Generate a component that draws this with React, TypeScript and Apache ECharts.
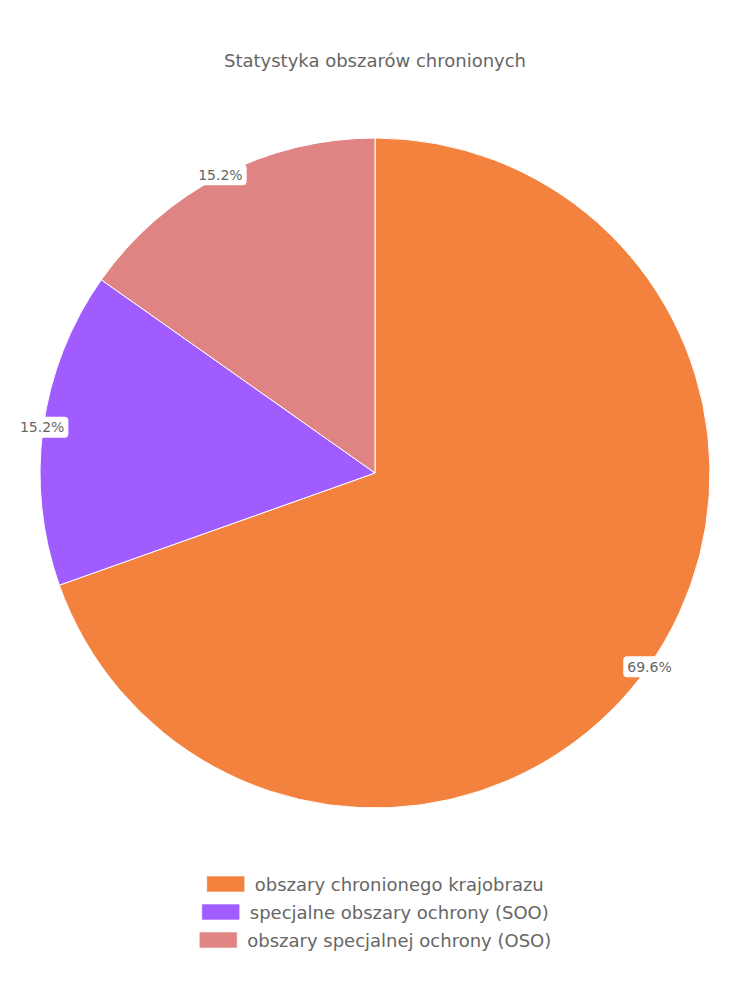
import React, { useEffect, useRef } from "react";
import * as echarts from "echarts";

const categories = [
  "obszary chronionego krajobrazu",
  "specjalne obszary ochrony (SOO)",
  "obszary specjalnej ochrony (OSO)",
];
const values = [32, 7, 7];
const colors = ["#f4823f", "#a05cff", "#e08383"];
const titleText = "Statystyka obszarów chronionych";

const FONT = "'DejaVu Sans', sans-serif";

export default function App() {
  const ref = useRef<HTMLDivElement>(null);
  useEffect(() => {
    document.body.style.margin = "0";
    const chart = echarts.init(ref.current!, null, { renderer: "svg" });
    const total = values.reduce((a, b) => a + b, 0);
    const data = categories.map((name, i) => ({
      name,
      value: values[i],
      itemStyle: { color: colors[i] },
    }));
    chart.setOption({
      animation: false,
      backgroundColor: "#ffffff",
      title: {
        text: titleText,
        left: "center",
        top: 46,
        textStyle: { fontFamily: FONT, fontSize: 18, fontWeight: "normal", color: "#666666" },
      },
      legend: categories.map((name, i) => ({
        orient: "vertical",
        left: "center",
        top: 870 + i * 28,
        itemWidth: 38,
        itemHeight: 16,
        itemGap: 10,
        icon: "rect",
        selectedMode: false,
        data: [{ name, itemStyle: { color: colors[i], borderColor: "rgba(255,255,255,0.6)", borderWidth: 1 } }],
        textStyle: { fontFamily: FONT, fontSize: 18, color: "#666666", padding: [0, 0, 0, 5] },
      })),
      series: [
        {
          type: "pie",
          center: [375, 473],
          radius: [0, 335],
          startAngle: 90,
          clockwise: true,
          label: { show: false },
          labelLine: { show: false },
          itemStyle: { borderColor: "#ffffff", borderWidth: 1 },
          emphasis: { disabled: true },
          data,
        },
        {
          type: "pie",
          center: [375, 473],
          radius: [318, 348],
          startAngle: 90,
          clockwise: true,
          silent: true,
          itemStyle: { color: "transparent", borderWidth: 0 },
          emphasis: { disabled: true },
          labelLine: { show: false },
          label: {
            show: true,
            position: "inside",
            formatter: (p: any) => ((p.value / total) * 100).toFixed(1) + "%",
            fontFamily: FONT,
            fontSize: 14,
            color: "#666666",
            backgroundColor: "#ffffff",
            borderRadius: 4,
            padding: [4, 4, 3, 4],
          },
          data: categories.map((name, i) => ({ name, value: values[i], itemStyle: { color: "transparent" } })),
        },
      ],
    });
    return () => chart.dispose();
  }, []);
  return <div ref={ref} style={{ width: 750, height: 1000 }} />;
}
